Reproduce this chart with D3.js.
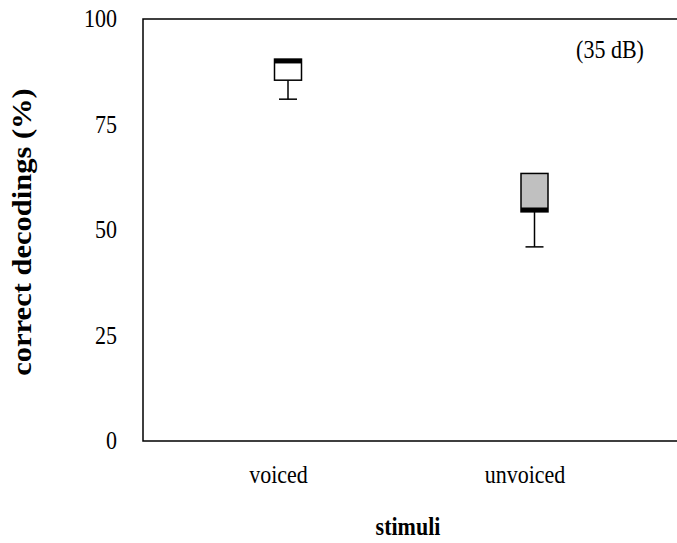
<!DOCTYPE html>
<html>
<head>
<meta charset="utf-8">
<script src="https://cdn.jsdelivr.net/npm/d3@7"></script>
<style>
  body { margin: 0; background: #fff; }
</style>
</head>
<body>
<svg id="chart" width="677" height="543"></svg>
<script>
// Box-plot summaries of correct decodings per stimulus type
const categories = ["voiced", "unvoiced"];
const whiskerLow = [81.0, 46.0];
const q1 = [85.5, 54.3];
const median = [90.0, 54.8];
const q3 = [90.5, 63.4];
const boxFill = ["#ffffff", "#c0c0c0"];
const yTicks = [0, 25, 50, 75, 100];
const condition = "(35 dB)";

(function draw() {
  const FONT = '"Liberation Serif", "Times New Roman", "DejaVu Serif", serif';
  const stretch = 1.13; // text is set slightly tall
  const svg = d3.select("#chart");
  const plotLeft = 143, plotTop = 19, plotBottom = 441, plotRight = 700;

  const y = d3.scaleLinear().domain([0, 100]).range([plotBottom, plotTop]);
  const x = d3.scalePoint().domain(categories).range([288, 534.5]);
  const boxW = 27, capW = 18;

  // plot frame (right side runs off the page)
  svg.append("path")
    .attr("d", `M${plotRight},${plotTop}H${plotLeft}V${plotBottom}H${plotRight}`)
    .attr("fill", "none").attr("stroke", "#000").attr("stroke-width", 1.5);

  // y axis labels
  const yAxis = d3.axisLeft(y).tickValues(yTicks).tickSize(0).tickPadding(26);
  const gy = svg.append("g").attr("transform", `translate(${plotLeft},0)`).call(yAxis);
  gy.select(".domain").remove();
  gy.selectAll("text")
    .style("font-family", FONT).style("font-size", "22px").attr("fill", "#000")
    .attr("transform", `scale(1,${stretch})`);

  // x axis labels
  const xAxis = d3.axisBottom(x).tickSize(0).tickPadding(22);
  const gx = svg.append("g").attr("transform", `translate(0,${plotBottom})`).call(xAxis);
  gx.select(".domain").remove();
  gx.selectAll("text")
    .style("font-family", FONT).style("font-size", "22px").attr("fill", "#000")
    .attr("dx", -10)
    .attr("transform", `scale(1,${stretch})`);

  // boxes
  categories.forEach((c, i) => {
    const cx = x(c);
    const g = svg.append("g");
    g.append("line")
      .attr("x1", cx).attr("x2", cx).attr("y1", y(q1[i])).attr("y2", y(whiskerLow[i]))
      .attr("stroke", "#000").attr("stroke-width", 1.5);
    g.append("line")
      .attr("x1", cx - capW / 2).attr("x2", cx + capW / 2)
      .attr("y1", y(whiskerLow[i])).attr("y2", y(whiskerLow[i]))
      .attr("stroke", "#000").attr("stroke-width", 1.5);
    g.append("rect")
      .attr("x", cx - boxW / 2).attr("width", boxW)
      .attr("y", y(q3[i])).attr("height", y(q1[i]) - y(q3[i]))
      .attr("fill", boxFill[i]).attr("stroke", "#000").attr("stroke-width", 1.5);
    g.append("line")
      .attr("x1", cx - boxW / 2).attr("x2", cx + boxW / 2)
      .attr("y1", y(median[i])).attr("y2", y(median[i]))
      .attr("stroke", "#000").attr("stroke-width", 4.5);
  });

  // condition note
  svg.append("text")
    .attr("transform", `translate(610,58) scale(1,${stretch})`)
    .attr("text-anchor", "middle")
    .style("font-family", FONT).style("font-size", "22px").text(condition);

  // axis titles
  svg.append("text")
    .attr("transform", `translate(408,535) scale(1,${stretch})`)
    .attr("text-anchor", "middle")
    .style("font-family", FONT).style("font-size", "22px").style("font-weight", "bold")
    .text("stimuli");
  svg.append("text")
    .attr("transform", `translate(31,232) scale(1,${stretch}) rotate(-90)`)
    .attr("text-anchor", "middle")
    .style("font-family", FONT).style("font-size", "27px").style("font-weight", "bold")
    .text("correct decodings (%)");
})();
</script>
</body>
</html>
